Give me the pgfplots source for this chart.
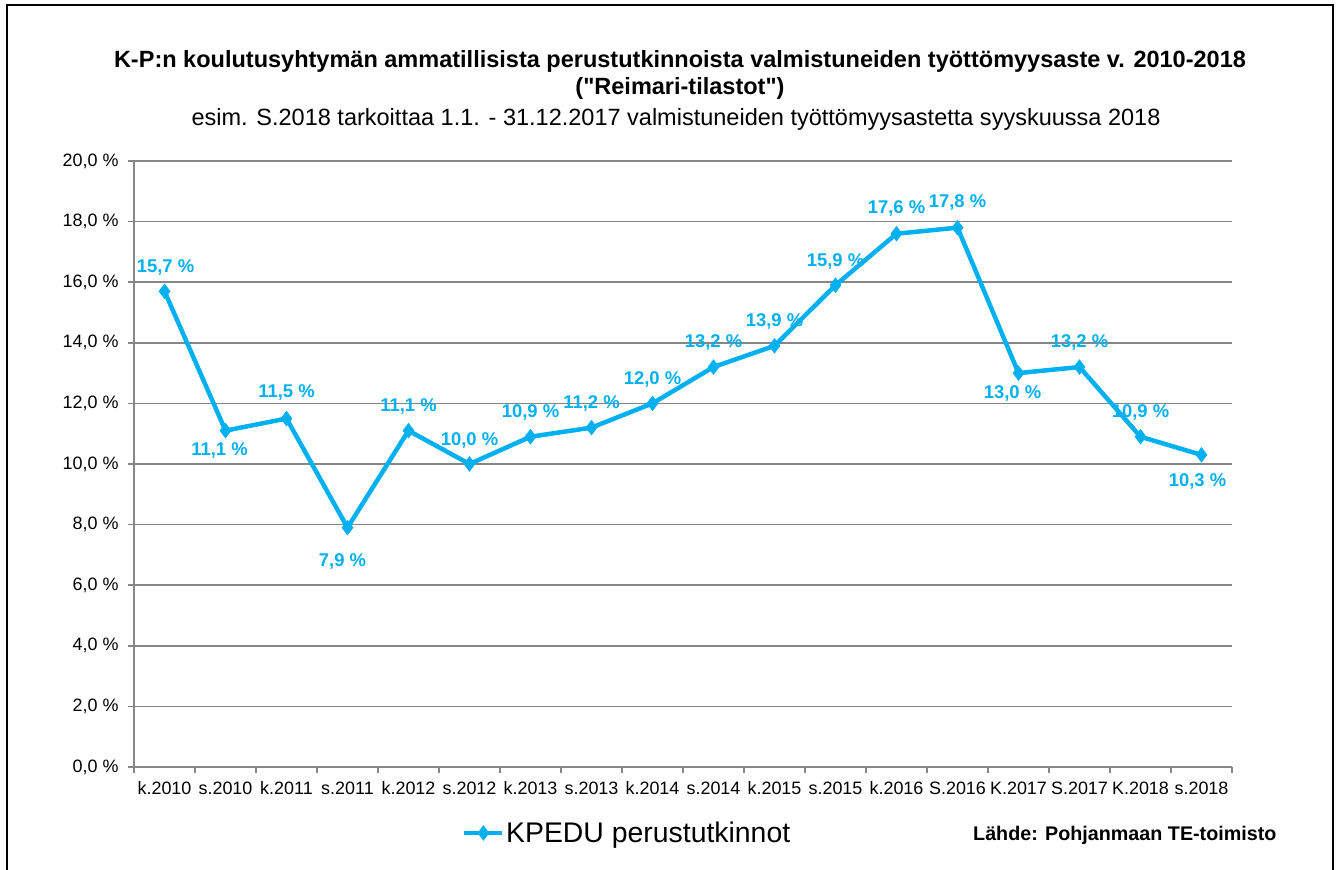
\documentclass[border=0pt]{standalone}
\usepackage{fontspec}
\setmainfont{Liberation Sans}
\newfontfamily\rawfont{Liberation Sans}[Ligatures=ResetAll]
\usepackage{pgfplots}
\pgfplotsset{compat=1.18}
\usepackage{pgfplotstable}
\definecolor{kcyan}{RGB}{0,176,240}
\definecolor{gridgray}{RGB}{134,134,134}

\pgfplotstableread{
x y dx dy
0 15.7 1 24
1 11.1 -6 -20
2 11.5 0 26
3 7.9 -5 -34
4 11.1 0 24
5 10.0 0 24
6 10.9 0 24
7 11.2 0 24
8 12.0 0 24
9 13.2 0 25
10 13.9 0 24
11 15.9 0 24
12 17.6 0 25
13 17.8 0 25
14 13.0 -6 -20
15 13.2 0 25
16 10.9 0 24
17 10.3 -4 -27
}\datatable

\begin{document}
\begin{tikzpicture}[x=1bp,y=1bp]
\useasboundingbox (0,0) rectangle (1341,869);
\fill[white] (0,0) rectangle (1341,869);
\draw[black, line width=2.2bp] (7,-10) rectangle (1333,864);
\node[font=\rawfont\bfseries\fontsize{23.6}{27}\selectfont, align=center] at (680,794)
  {K-P:n koulutusyhtymän ammatillisista perustutkinnoista valmistuneiden työttömyysaste v. 2010-2018\\("Reimari-tilastot")};
\node[font=\fontsize{23.6}{26}\selectfont] at (676,750)
  {esim. S.2018 tarkoittaa 1.1. - 31.12.2017 valmistuneiden työttömyysastetta syyskuussa 2018};
\node[font=\bfseries\fontsize{19.8}{22}\selectfont, anchor=west, inner sep=0pt] at (973,34)
  {Lähde: Pohjanmaan TE-toimisto};

\begin{axis}[
  at={(134bp,102bp)}, anchor=south west,
  scale only axis, width=1098bp, height=606bp,
  xmin=-0.5, xmax=17.5, ymin=0, ymax=20,
  axis x line*=bottom, axis y line*=left,
  axis line style={gridgray, line width=1.5bp, -},
  tick align=outside,
  major tick length=6bp,
  minor tick length=6bp,
  tick style={gridgray, line width=1.5bp},
  ytick={0,2,...,20},
  yticklabels={{0,0 \%},{2,0 \%},{4,0 \%},{6,0 \%},{8,0 \%},{10,0 \%},{12,0 \%},{14,0 \%},{16,0 \%},{18,0 \%},{20,0 \%}},
  ymajorgrids,
  grid style={gridgray, line width=1.5bp},
  xtick={0,1,...,17},
  xticklabels={k.2010,s.2010,k.2011,s.2011,k.2012,s.2012,k.2013,s.2013,k.2014,s.2014,k.2015,s.2015,k.2016,S.2016,K.2017,S.2017,K.2018,s.2018},
  minor xtick={-0.5,0.5,...,17.5},
  major x tick style={draw=none},
  ticklabel style={font=\fontsize{18}{20}\selectfont, text=black},
  xticklabel style={yshift=-5bp},
  yticklabel style={xshift=-6bp},
  legend style={at={(0.2987,-0.1089)}, anchor=west, draw=none, fill=none,
    font=\fontsize{28.5}{30}\selectfont, inner sep=0pt,
    nodes={inner sep=1.5bp}},
  legend image code/.code={\draw[mark repeat=2,mark phase=2,#1] plot coordinates {(0bp,0bp) (19bp,0bp) (38bp,0bp)};},
  clip=false,
]
\addplot[kcyan, line width=4.5bp, mark=diamond*, mark size=7bp,
  mark options={solid, fill=kcyan, line width=1bp}] table[x=x, y=y] {\datatable};
\addlegendentry{KPEDU perustutkinnot}
\addplot[draw=none, forget plot, point meta=y,
  visualization depends on={\thisrow{dx} \as \dx},
  visualization depends on={\thisrow{dy} \as \dy},
  nodes near coords={\pgfmathprintnumber[fixed,fixed zerofill,precision=1,use comma,assume math mode=true]{\pgfplotspointmeta}~\%},
  every node near coord/.append style={anchor=center, xshift=\dx bp, yshift=\dy bp,
    font=\bfseries\fontsize{18.5}{20}\selectfont, text=kcyan, inner sep=0pt}]
  table[x=x, y=y] {\datatable};
\end{axis}
\end{tikzpicture}
\end{document}
